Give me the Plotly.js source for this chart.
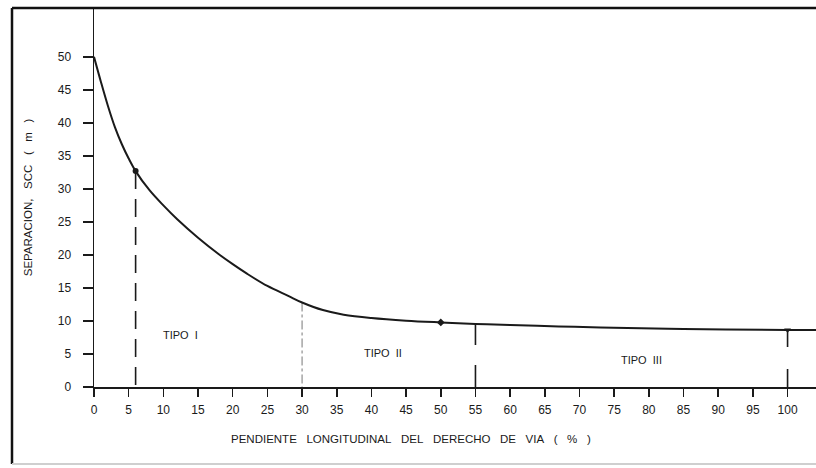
<!DOCTYPE html>
<html>
<head>
<meta charset="utf-8">
<script src="https://cdn.plot.ly/plotly-3.0.1.min.js"></script>
<style>html,body{margin:0;padding:0;background:#fff;}#chart{width:816px;height:468px;}</style>
</head>
<body>
<div id="chart"></div>
<script>
// Curve: separation SCC (m) vs longitudinal slope (%)
var curveX = [0, 1, 2, 3, 4, 5, 6, 8, 10, 12, 15, 18, 20, 22, 25, 28, 30, 33, 36, 40, 45, 50, 55, 60, 67, 73, 85, 100, 104.1];
var curveY = [50, 46.2, 42.6, 39.4, 36.8, 34.6, 32.7, 29.8, 27.5, 25.4, 22.6, 20.1, 18.6, 17.2, 15.3, 13.8, 12.8, 11.65, 10.95, 10.45, 10.05, 9.78, 9.55, 9.38, 9.17, 9.02, 8.78, 8.65, 8.63];

// Type boundaries
var boundX = [6, 30, 55, 100];
var boundY = [32.7, 12.8, 9.55, 8.65];

// Marked points
var markX = [6, 50, 100];
var markY = [32.7, 9.78, 8.65];
var markSymbols = ['circle', 'diamond', 'triangle-down'];

// Zone labels
var zoneLabels = ['TIPO\u00a0\u00a0I', 'TIPO\u00a0\u00a0II', 'TIPO\u00a0\u00a0III'];
var zoneX = [12.4, 41.7, 79];
var zoneY = [7.9, 5.1, 4.1];

var xTicks = [0,5,10,15,20,25,30,35,40,45,50,55,60,65,70,75,80,85,90,95,100];
var yTicks = [0,5,10,15,20,25,30,35,40,45,50];

var font = 'Liberation Sans, Arial, sans-serif';
var ink = '#1a1a1a';
var sp = '\u00a0\u00a0\u00a0';

var boundStyles = [
  {dash: '18px,10px', width: 1.6, color: ink},
  {dash: 'dashdot', width: 1, color: '#777'},
  {dash: '21px,20px,23px', width: 1.6, color: ink},
  {dash: '17px,22px,21px', width: 1.6, color: ink}
];

var traces = [];
for (var i = 0; i < boundX.length; i++) {
  traces.push({
    x: [boundX[i], boundX[i]], y: [boundY[i], 0],
    mode: 'lines', type: 'scatter', hoverinfo: 'skip', showlegend: false,
    line: boundStyles[i]
  });
}
traces.push({
  x: curveX, y: curveY, mode: 'lines', type: 'scatter', showlegend: false,
  line: {color: ink, width: 2, shape: 'spline', smoothing: 1}
});
traces.push({
  x: markX, y: markY, mode: 'markers', type: 'scatter', showlegend: false,
  marker: {color: ink, size: 6, symbol: markSymbols}
});

var annotations = [];
for (var j = 0; j < zoneLabels.length; j++) {
  annotations.push({
    x: zoneX[j], y: zoneY[j], xref: 'x', yref: 'y', text: zoneLabels[j],
    showarrow: false, font: {family: font, size: 11, color: ink}
  });
}
annotations.push({
  x: (411 - 94) / 722, y: (387 - 447) / 379, xref: 'paper', yref: 'paper',
  text: ['PENDIENTE', 'LONGITUDINAL', 'DEL', 'DERECHO', 'DE', 'VIA', '(', '%', ')'].join(sp),
  showarrow: false, font: {family: font, size: 11.5, color: ink}
});

var layout = {
  width: 816, height: 468,
  margin: {l: 94, r: 0, t: 8, b: 81, pad: 0},
  paper_bgcolor: '#fff', plot_bgcolor: '#fff',
  showlegend: false,
  font: {family: font, color: ink, size: 12},
  xaxis: {
    range: [0, 104.1], showgrid: false, zeroline: false,
    showline: true, linecolor: ink, linewidth: 1.5,
    tickmode: 'array', tickvals: xTicks, ticktext: xTicks.map(String),
    ticks: 'outside', ticklen: 8, tickwidth: 1.5, tickcolor: ink,
    ticklabelstandoff: 3,
    tickfont: {family: font, size: 12, color: ink}
  },
  yaxis: {
    range: [0, 57.4], showgrid: false, zeroline: false,
    showline: true, linecolor: ink, linewidth: 1.5,
    tickmode: 'array', tickvals: yTicks, ticktext: yTicks.map(String),
    ticks: 'outside', ticklen: 10, tickwidth: 1.5, tickcolor: ink,
    ticklabelstandoff: 9,
    tickfont: {family: font, size: 12, color: ink},
    title: {text: 'SEPARACION,\u00a0\u00a0\u00a0SCC\u00a0\u00a0\u00a0(\u00a0\u00a0\u00a0m\u00a0\u00a0\u00a0)', standoff: 22, font: {family: font, size: 11.5, color: ink}}
  },
  annotations: annotations,
  shapes: [
    {type: 'line', xref: 'paper', yref: 'paper', x0: (12 - 94) / 722, x1: (12 - 94) / 722, y0: (387 - 464) / 379, y1: 1.0, line: {color: '#111', width: 2.5}},
    {type: 'line', xref: 'paper', yref: 'paper', x0: (12 - 94) / 722, x1: 1.0, y0: 1.0, y1: 1.0, line: {color: '#111', width: 2.5}},
    {type: 'line', xref: 'paper', yref: 'paper', x0: (12 - 94) / 722, x1: 1.0, y0: (387 - 464) / 379, y1: (387 - 464) / 379, line: {color: '#cfcfcf', width: 2}}
  ]
};

Plotly.newPlot('chart', traces, layout, {displayModeBar: false, staticPlot: true});
</script>
</body>
</html>
